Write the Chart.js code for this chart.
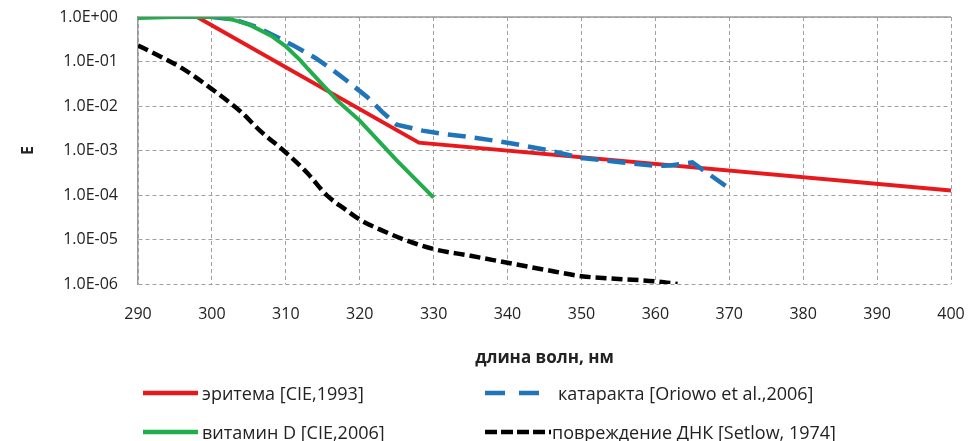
<!DOCTYPE html>
<html>
<head>
<meta charset="utf-8">
<script src="https://cdn.jsdelivr.net/npm/chart.js@4.4.1/dist/chart.umd.min.js"></script>
<style>
  body { margin: 0; background: #fff; font-family: "Open Sans", sans-serif; }
  #wrap { position: relative; width: 973px; height: 441px; }
  #chart { position: absolute; left: 0; top: 0; }
  .lg { position: absolute; display: flex; align-items: center; white-space: nowrap;
        font-size: 18px; color: #222; height: 24px; }
  .lg svg { display: block; }
</style>
</head>
<body>
<div id="wrap">
  <canvas id="chart" width="973" height="441"></canvas>
</div>
<script>
// --- данные ---
const erythemaX = [290, 298, 328, 400];
const erythemaY = [1, 1, 0.0015, 0.000126];

const cataractX = [300, 303, 306, 309, 311, 314, 316, 318, 321, 323, 325, 328.5, 331, 335, 340, 345, 350, 355, 360, 362, 365, 370];
const cataractY = [1, 0.88, 0.6, 0.34, 0.23, 0.12, 0.071, 0.04, 0.016, 0.0075, 0.0038, 0.0028, 0.0024, 0.002, 0.0015, 0.00105, 0.00068, 0.00055, 0.00045, 0.00046, 0.00054, 0.00014];

const vitaminX = [290, 295, 301, 303, 305, 308, 310, 312, 313, 315, 317, 320, 325, 330];
const vitaminY = [0.95, 1, 1, 0.85, 0.68, 0.38, 0.22, 0.105, 0.068, 0.03, 0.013, 0.0047, 0.0006, 0.000087];

const dnaX = [290, 293, 296, 300, 304, 306.5, 310, 313, 315.5, 318, 320, 323, 326.5, 330, 335, 340, 345, 350, 355, 360, 363];
const dnaY = [0.23, 0.13, 0.07, 0.024, 0.0072, 0.0028, 0.0009, 0.0003, 0.0001, 0.000048, 0.000028, 0.000016, 0.0000093, 0.0000061, 0.0000043, 0.000003, 0.0000021, 0.0000015, 0.0000013, 0.00000115, 0.000001];

const yTickValues = [1e-6, 1e-5, 1e-4, 1e-3, 1e-2, 1e-1, 1];
const yTickLabels = ['1.0E-06', '1.0E-05', '1.0E-04', '1.0E-03', '1.0E-02', '1.0E-01', '1.0E+00'];

const seriesNames = ['эритема [CIE,1993]', 'катаракта [Oriowo et al.,2006]', 'витамин D [CIE,2006]', 'повреждение ДНК [Setlow, 1974]'];

function pts(xs, ys) {
    return xs.map((x, i) => ({ x: x, y: ys[i] }));
}

// сплошная ось сверху (ось X пересекает Y в 1.0)
const topLine = {
    id: 'topLine',
    beforeDatasetsDraw(chart) {
        const a = chart.chartArea, ctx = chart.ctx;
        ctx.save();
        ctx.strokeStyle = '#9a9a9a';
        ctx.lineWidth = 1.5;
        ctx.beginPath();
        ctx.moveTo(a.left, a.top);
        ctx.lineTo(a.right, a.top);
        ctx.stroke();
        ctx.restore();
    }
};

// убираем автоматические отступы шкал, поле графика задаётся layout.padding
function noPad(s) {
    s.paddingTop = 0; s.paddingBottom = 0; s.paddingLeft = 0; s.paddingRight = 0;
}

const datasets = [
    { label: seriesNames[0], data: pts(erythemaX, erythemaY), borderColor: '#e8191c', borderWidth: 4, order: 2 },
    { label: seriesNames[1], data: pts(cataractX, cataractY), borderColor: '#1f74ba', borderWidth: 4.5, borderDash: [18, 9], order: 1 },
    { label: seriesNames[2], data: pts(vitaminX, vitaminY), borderColor: '#22ac4c', borderWidth: 4, order: 0 },
    { label: seriesNames[3], data: pts(dnaX, dnaY), borderColor: '#000000', borderWidth: 4.5, borderDash: [11, 5], order: 3,
      cubicInterpolationMode: 'monotone' }
];
datasets.forEach(d => { d.pointRadius = 0; d.fill = false; d.borderCapStyle = 'butt'; });

const chart = new Chart(document.getElementById('chart'), {
    type: 'line',
    data: { datasets: datasets },
    options: {
        responsive: false,
        animation: false,
        layout: { padding: { top: 17, right: 22, bottom: 0, left: 0 } },
        plugins: { legend: { display: false }, tooltip: { enabled: false } },
        scales: {
            x: {
                type: 'linear', min: 290, max: 400,
                ticks: { stepSize: 10, padding: 21, color: '#222', font: { family: 'Open Sans', size: 16 } },
                grid: { color: '#a0a0a0', lineWidth: 1, drawTicks: false },
                border: { display: false, dash: [4, 3] },
                title: { display: true, text: 'длина волн, нм', color: '#222',
                         font: { family: 'Open Sans', size: 17, weight: 'bold' }, padding: { top: 0, bottom: 73 } },
                afterFit: s => { s.height = 441 - 284; noPad(s); }
            },
            y: {
                type: 'logarithmic', min: 1e-6, max: 1,
                afterBuildTicks: s => { s.ticks = yTickValues.map(v => ({ value: v })); },
                ticks: {
                    padding: 20, color: '#222', font: { family: 'Open Sans', size: 16 },
                    callback: v => yTickLabels[yTickValues.indexOf(v)] || ''
                },
                grid: { color: '#a0a0a0', lineWidth: 1, drawTicks: false },
                border: { display: true, color: '#9a9a9a', width: 1.5, dash: [4, 3] },
                title: { display: true, text: 'E', color: '#222',
                         font: { family: 'Open Sans', size: 16, weight: 'bold' }, padding: { top: 19, bottom: 0 } },
                afterFit: s => { s.width = 138; noPad(s); }
            }
        }
    },
    plugins: [topLine]
});

// --- легенда (две строки по два элемента) ---
const legendPos = [
    { x: 143, y: 381, w: 55, gap: 4 },
    { x: 485, y: 381, w: 56, gap: 17 },
    { x: 143, y: 420, w: 55, gap: 4 },
    { x: 485, y: 420, w: 66, gap: 1 }
];
const legendDash = [null, '20 14', null, '12 4'];
datasets.forEach((d, i) => {
    const p = legendPos[i];
    const el = document.createElement('div');
    el.className = 'lg';
    el.style.left = p.x + 'px';
    el.style.top = p.y + 'px';
    const ns = 'http://www.w3.org/2000/svg';
    const svg = document.createElementNS(ns, 'svg');
    svg.setAttribute('width', p.w);
    svg.setAttribute('height', 10);
    svg.style.marginRight = p.gap + 'px';
    const ln = document.createElementNS(ns, 'line');
    ln.setAttribute('x1', 0); ln.setAttribute('x2', p.w);
    ln.setAttribute('y1', 5); ln.setAttribute('y2', 5);
    ln.setAttribute('stroke', d.borderColor);
    ln.setAttribute('stroke-width', 4.5);
    if (legendDash[i]) ln.setAttribute('stroke-dasharray', legendDash[i]);
    svg.appendChild(ln);
    el.appendChild(svg);
    const t = document.createElement('span');
    t.textContent = d.label;
    el.appendChild(t);
    document.getElementById('wrap').appendChild(el);
});
</script>
</body>
</html>
